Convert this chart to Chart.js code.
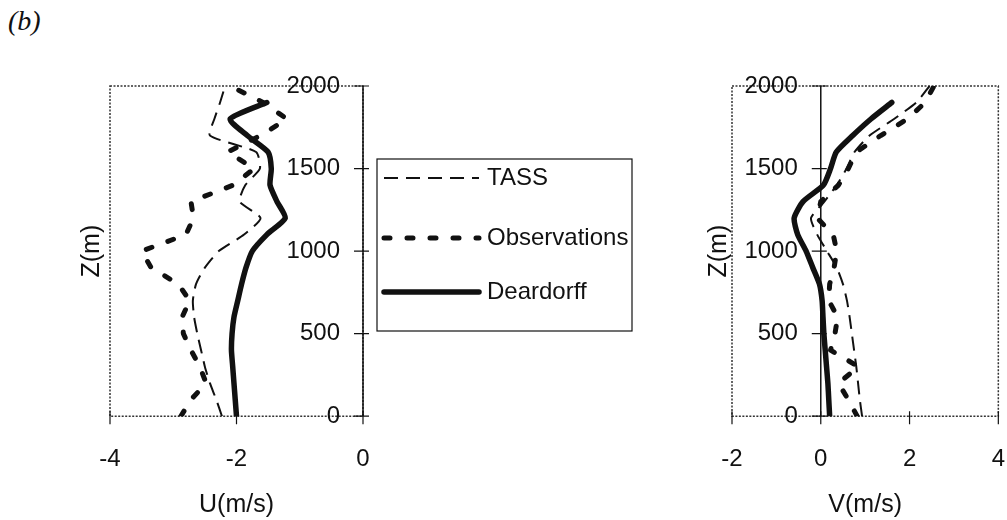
<!DOCTYPE html>
<html>
<head>
<meta charset="utf-8">
<script src="https://cdn.jsdelivr.net/npm/chart.js@4.4.1/dist/chart.umd.min.js"></script>
<style>
  html, body { margin: 0; padding: 0; background: #fff; }
  #page { position: relative; width: 1007px; height: 520px; overflow: hidden; }
  #panel-label { position: absolute; left: 8px; top: 5px; font: italic 28px "Liberation Serif", serif; color: #111; }
  #uChart { position: absolute; left: 0; top: 0; }
  #vChart { position: absolute; left: 680px; top: 0; }
</style>
</head>
<body>
<div id="page">
  <div id="panel-label">(b)</div>
  <canvas id="uChart" width="640" height="520"></canvas>
  <canvas id="vChart" width="354" height="520"></canvas>
</div>
<script>
// profile levels, m
const heights = [0, 100, 200, 300, 400, 500, 600, 700, 800, 900, 1000,
  1100, 1200, 1300, 1400, 1500, 1600, 1700, 1800, 1900, 2000];

// U component (m/s) at each level
const uTass = [-2.23, -2.32, -2.42, -2.50, -2.56, -2.62, -2.67, -2.69, -2.64, -2.50, -2.28,
  -1.88, -1.62, -1.95, -1.86, -1.63, -1.69, -2.42, -2.35, -2.26, -2.18];
const uObservations = [-2.88, -2.72, -2.48, -2.58, -2.72, -2.84, -2.86, -2.74, -2.92, -3.35, -3.50,
  -2.80, -2.68, -2.72, -2.05, -1.72, -2.14, -1.62, -1.20, -1.58, -2.10];
const uDeardorff = [-2.00, -2.02, -2.04, -2.06, -2.08, -2.07, -2.04, -1.98, -1.92, -1.85, -1.75,
  -1.52, -1.23, -1.36, -1.47, -1.45, -1.50, -1.83, -2.10, -1.52, null];

// V component (m/s) at each level
const vTass = [0.93, 0.88, 0.84, 0.80, 0.75, 0.70, 0.65, 0.59, 0.50, 0.36, 0.14,
  -0.08, -0.22, 0.08, 0.36, 0.58, 0.76, 1.10, 1.65, 2.15, 2.45];
const vObservations = [0.82, 0.62, 0.40, 0.85, 0.22, 0.32, 0.38, 0.18, 0.20, 0.30, 0.36,
  0.28, -0.08, 0.00, 0.40, 0.62, 0.80, 1.35, 1.95, 2.35, 2.55];
const vDeardorff = [0.20, 0.18, 0.16, 0.13, 0.10, 0.07, 0.05, 0.03, -0.03, -0.18, -0.33,
  -0.52, -0.60, -0.40, 0.06, 0.22, 0.35, 0.72, 1.13, 1.60, null];

const seriesNames = ['TASS', 'Observations', 'Deardorff'];
const zTicks = [0, 500, 1000, 1500, 2000];
const uTicks = [-4, -2, 0];
const vTicks = [-2, 0, 2, 4];

const INK = '#111';
const FONT = '"Liberation Sans", Arial, sans-serif';

const lineStyles = [
  { borderWidth: 2, borderDash: [14, 8], borderCapStyle: 'butt', tension: 0.2 },
  { borderWidth: 5, borderDash: [6, 17], borderCapStyle: 'round', tension: 0 },
  { borderWidth: 5.5, borderDash: [], borderCapStyle: 'round', tension: 0.2 },
];

function profile(values) {
  return values
    .map((v, i) => ({ x: v, y: heights[i] }))
    .filter((p) => p.x !== null);
}

function buildDatasets(series) {
  return series.map((values, i) => ({
    label: seriesNames[i],
    data: profile(values),
    xAxisID: 'x',
    yAxisID: 'y',
    borderColor: INK,
    backgroundColor: INK,
    pointRadius: 0,
    fill: false,
    borderJoinStyle: 'round',
    ...lineStyles[i],
  }));
}

const useTicks = (list) => (scale) => {
  scale.ticks = list.map((v) => ({ value: v }));
};

// dotted box round the plot area
const frame = {
  id: 'frame',
  beforeDatasetsDraw(chart) {
    const { ctx, chartArea: a } = chart;
    ctx.save();
    ctx.strokeStyle = '#333';
    ctx.lineWidth = 1.5;
    ctx.setLineDash([2, 1.5]);
    ctx.strokeRect(a.left, a.top, a.right - a.left, a.bottom - a.top);
    ctx.restore();
  },
};

// height axis standing at zero velocity: line, crossing ticks, labels on its left
const zeroAxis = {
  id: 'zeroAxis',
  afterDraw(chart) {
    const { ctx, chartArea: a, scales: { x, y } } = chart;
    const x0 = x.getPixelForValue(0);
    ctx.save();
    ctx.strokeStyle = INK;
    ctx.lineWidth = 1.5;
    ctx.beginPath();
    ctx.moveTo(x0, a.top);
    ctx.lineTo(x0, a.bottom);
    ctx.stroke();

    ctx.lineWidth = 1.2;
    ctx.beginPath();
    x.ticks.forEach((t) => {
      const px = x.getPixelForValue(t.value);
      ctx.moveTo(px, a.bottom - 5);
      ctx.lineTo(px, a.bottom + 8);
    });
    y.ticks.forEach((t) => {
      const py = y.getPixelForValue(t.value);
      ctx.moveTo(x0 - 9, py);
      ctx.lineTo(x0 + 6, py);
    });
    ctx.stroke();

    ctx.fillStyle = INK;
    ctx.font = `24px ${FONT}`;
    ctx.textAlign = 'right';
    ctx.textBaseline = 'middle';
    y.ticks.forEach((t) => {
      ctx.fillText(String(t.value), x0 - 23, y.getPixelForValue(t.value));
    });
    ctx.restore();
  },
};

// boxed legend between the two panels
const LEGEND_BOX = { left: 377, top: 159, width: 255, height: 172, rows: [19, 79, 133], sample: 95, gap: 8 };

const boxLegend = {
  id: 'boxLegend',
  afterDraw(chart) {
    const { ctx } = chart;
    const b = LEGEND_BOX;
    ctx.save();
    ctx.strokeStyle = INK;
    ctx.lineWidth = 1.2;
    ctx.strokeRect(b.left, b.top, b.width, b.height);
    ctx.font = `24px ${FONT}`;
    ctx.fillStyle = INK;
    ctx.textBaseline = 'middle';
    chart.data.datasets.forEach((ds, i) => {
      const yy = b.top + b.rows[i];
      ctx.lineWidth = ds.borderWidth;
      ctx.setLineDash(ds.borderDash);
      ctx.lineCap = ds.borderCapStyle;
      ctx.beginPath();
      ctx.moveTo(b.left + 7, yy);
      ctx.lineTo(b.left + 7 + b.sample, yy);
      ctx.stroke();
      ctx.setLineDash([]);
      ctx.fillText(ds.label, b.left + 7 + b.sample + b.gap, yy);
    });
    ctx.restore();
  },
};

function panelOptions(xMin, xMax, xTicks, xTitle, padding, zTitlePad) {
  return {
    responsive: false,
    animation: false,
    events: [],
    layout: { padding },
    plugins: { legend: { display: false }, tooltip: { enabled: false } },
    scales: {
      x: {
        type: 'linear',
        position: 'bottom',
        min: xMin,
        max: xMax,
        afterBuildTicks: useTicks(xTicks),
        grid: { display: false, drawTicks: false },
        border: { display: false },
        ticks: { padding: 29, color: INK, font: { family: FONT, size: 24 } },
        title: {
          display: true,
          text: xTitle,
          color: INK,
          font: { family: FONT, size: 25 },
          padding: { top: -13, bottom: 0 },
        },
      },
      y: {
        type: 'linear',
        position: { x: 0 },
        min: 0,
        max: 2000,
        afterBuildTicks: useTicks(zTicks),
        grid: { display: false, drawTicks: false },
        border: { display: false },
        ticks: { display: false },
      },
      zTitle: {
        type: 'linear',
        position: 'left',
        grid: { display: false, drawTicks: false },
        border: { display: false },
        ticks: { display: false },
        title: {
          display: true,
          text: 'Z(m)',
          color: INK,
          font: { family: FONT, size: 25, lineHeight: 1 },
          padding: zTitlePad,
        },
      },
    },
  };
}

new Chart(document.getElementById('uChart'), {
  type: 'line',
  data: { datasets: buildDatasets([uTass, uObservations, uDeardorff]) },
  options: panelOptions(-4, 0, uTicks, 'U(m/s)',
    { left: 79.5, right: 277, top: 86, bottom: 0 }, { top: 0, bottom: 5.5 }),
  plugins: [frame, zeroAxis, boxLegend],
});

new Chart(document.getElementById('vChart'), {
  type: 'line',
  data: { datasets: buildDatasets([vTass, vObservations, vDeardorff]) },
  options: panelOptions(-2, 4, vTicks, 'V(m/s)',
    { left: 27, right: 0, top: 86, bottom: 0 }, { top: 0, bottom: 0 }),
  plugins: [frame, zeroAxis],
});
</script>
</body>
</html>
